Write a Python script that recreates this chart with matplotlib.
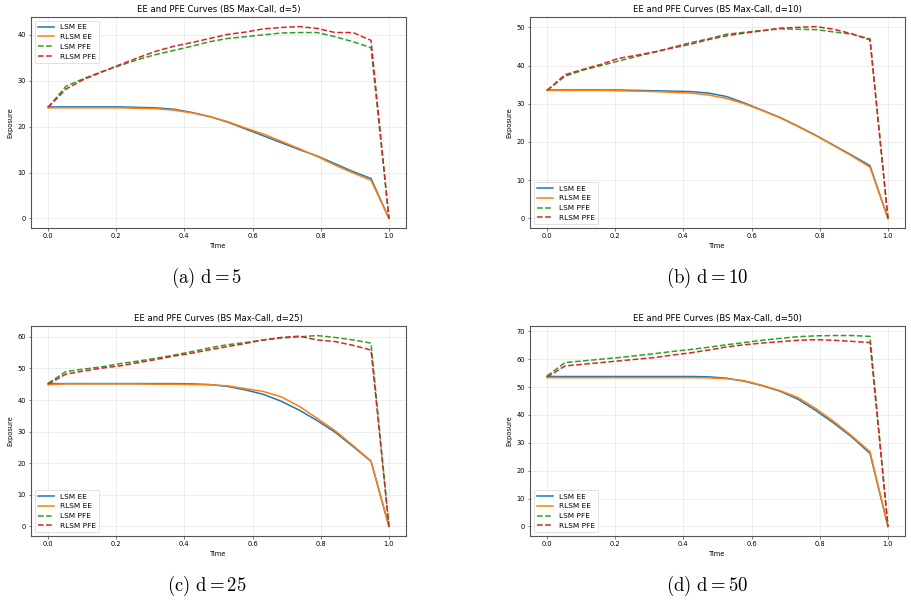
import numpy as np
import matplotlib
matplotlib.use("Agg")
import matplotlib.pyplot as plt

plt.rcParams['mathtext.fontset'] = 'cm'

# time grid (20 exposure dates)
time = np.linspace(0, 1, 20)

dims = [5, 10, 25, 50]
captions = ["(a)", "(b)", "(c)", "(d)"]

lsm_ee = {
    5:  [24.3, 24.3, 24.3, 24.3, 24.3, 24.2, 24.1, 23.8, 23.1, 22.2, 21.0, 19.5, 18.0, 16.5, 15.0, 13.6, 11.9, 10.2, 8.7, 0.0],
    10: [33.6, 33.6, 33.6, 33.6, 33.6, 33.5, 33.4, 33.3, 33.2, 32.8, 31.9, 30.2, 28.3, 26.4, 24.1, 21.7, 19.1, 16.5, 13.8, 0.0],
    25: [45.2, 45.2, 45.2, 45.2, 45.2, 45.2, 45.2, 45.2, 45.1, 44.9, 44.3, 43.2, 41.8, 39.6, 36.8, 33.5, 29.8, 25.3, 20.6, 0.0],
    50: [53.8, 53.8, 53.8, 53.8, 53.8, 53.8, 53.8, 53.8, 53.8, 53.7, 53.2, 52.1, 50.5, 48.5, 45.6, 41.5, 37.0, 32.0, 26.2, 0.0],
}
rlsm_ee = {
    5:  [24.1, 24.1, 24.1, 24.1, 24.1, 24.0, 23.9, 23.6, 23.0, 22.2, 21.1, 19.7, 18.4, 16.8, 15.2, 13.5, 11.6, 9.9, 8.3, 0.0],
    10: [33.5, 33.5, 33.5, 33.5, 33.4, 33.3, 33.2, 33.0, 32.8, 32.3, 31.4, 30.0, 28.2, 26.3, 24.0, 21.6, 19.0, 16.3, 13.4, 0.0],
    25: [44.9, 45.1, 45.1, 45.1, 45.1, 45.1, 45.0, 45.0, 44.9, 44.8, 44.5, 43.6, 42.7, 41.0, 38.0, 34.2, 30.3, 25.6, 20.7, 0.0],
    50: [53.4, 53.4, 53.4, 53.4, 53.4, 53.4, 53.4, 53.4, 53.4, 53.3, 53.0, 52.3, 50.6, 48.7, 46.2, 42.2, 37.6, 32.4, 26.8, 0.0],
}
lsm_pfe = {
    5:  [24.2, 28.8, 30.5, 32.0, 33.3, 34.6, 35.7, 36.6, 37.5, 38.5, 39.2, 39.6, 40.0, 40.4, 40.5, 40.5, 39.6, 38.5, 37.2, 0.0],
    10: [33.5, 37.2, 38.8, 40.0, 41.2, 42.4, 43.5, 44.8, 46.0, 47.0, 48.2, 48.7, 49.2, 49.6, 49.5, 49.4, 48.8, 48.2, 47.0, 0.0],
    25: [45.3, 49.0, 49.8, 50.5, 51.5, 52.3, 53.2, 54.2, 55.3, 56.5, 57.5, 58.2, 59.0, 59.6, 60.0, 60.4, 59.8, 59.0, 58.0, 0.0],
    50: [54.0, 58.8, 59.4, 60.0, 60.6, 61.3, 62.0, 62.8, 63.5, 64.3, 65.2, 66.0, 66.8, 67.5, 68.1, 68.4, 68.5, 68.5, 68.2, 0.0],
}
rlsm_pfe = {
    5:  [24.2, 28.2, 30.3, 31.9, 33.5, 35.0, 36.4, 37.5, 38.3, 39.2, 40.1, 40.6, 41.3, 41.6, 41.8, 41.4, 40.5, 40.5, 38.8, 0.0],
    10: [33.5, 37.6, 39.0, 40.3, 41.9, 42.7, 43.6, 44.6, 45.6, 46.8, 47.8, 48.5, 49.1, 49.8, 50.0, 50.2, 49.5, 48.3, 46.7, 0.0],
    25: [45.0, 48.2, 49.2, 50.1, 50.8, 51.8, 52.8, 53.9, 54.8, 55.9, 56.9, 57.9, 59.0, 59.8, 60.2, 59.0, 58.5, 57.3, 55.8, 0.0],
    50: [53.6, 57.6, 58.2, 58.8, 59.4, 60.0, 60.6, 61.5, 62.3, 63.3, 64.4, 65.2, 65.8, 66.3, 66.8, 67.0, 66.8, 66.4, 66.0, 0.0],
}
legend_locs = {5: "upper left", 10: "lower left", 25: "lower left", 50: "lower left"}

W, H = 912, 603
fig = plt.figure(figsize=(W / 100, H / 100), dpi=100)

# axes boxes in pixels: (left, top, right, bottom)
boxes = [(31, 17, 406, 228), (530, 17, 905, 228),
         (31, 326, 406, 536), (530, 326, 905, 536)]
cap_pos = [(207, 278), (707, 278), (207, 586), (707, 586)]

fs = 4.8
for d, cap, (l, t, r, b), (cx, cy) in zip(dims, captions, boxes, cap_pos):
    ax = fig.add_axes([l / W, 1 - b / H, (r - l) / W, (b - t) / H])
    ax.plot(time, lsm_ee[d], color='#1f77b4', lw=1.1, label='LSM EE')
    ax.plot(time, rlsm_ee[d], color='#ff7f0e', lw=1.1, label='RLSM EE')
    ax.plot(time, lsm_pfe[d], color='#2ca02c', lw=1.1, ls='--', label='LSM PFE')
    ax.plot(time, rlsm_pfe[d], color='#d62728', lw=1.1, ls='--', label='RLSM PFE')
    ax.set_title(f"EE and PFE Curves (BS Max-Call, d={d})", fontsize=6.1, pad=3.5)
    ax.set_xlabel("Time", fontsize=fs, labelpad=3)
    ax.set_ylabel("Exposure", fontsize=fs, labelpad=3)
    ax.tick_params(labelsize=fs, length=1.8, width=0.5, pad=1.8, color='#444444')
    ax.grid(True, alpha=0.3, lw=0.5)
    for s in ax.spines.values():
        s.set_linewidth(0.8)
        s.set_color('#555555')
    leg = ax.legend(loc=legend_locs[d], fontsize=5.3, handlelength=2.2,
                    borderpad=0.45, labelspacing=0.5, fancybox=True)
    leg.get_frame().set_linewidth(0.5)
    fig.text(cx / W, 1 - cy / H, r'$\mathrm{' + cap + r'\ d} = ' + str(d) + r'$',
             ha='center', va='center', fontsize=13.5)

fig.savefig("out.png", dpi=100)
